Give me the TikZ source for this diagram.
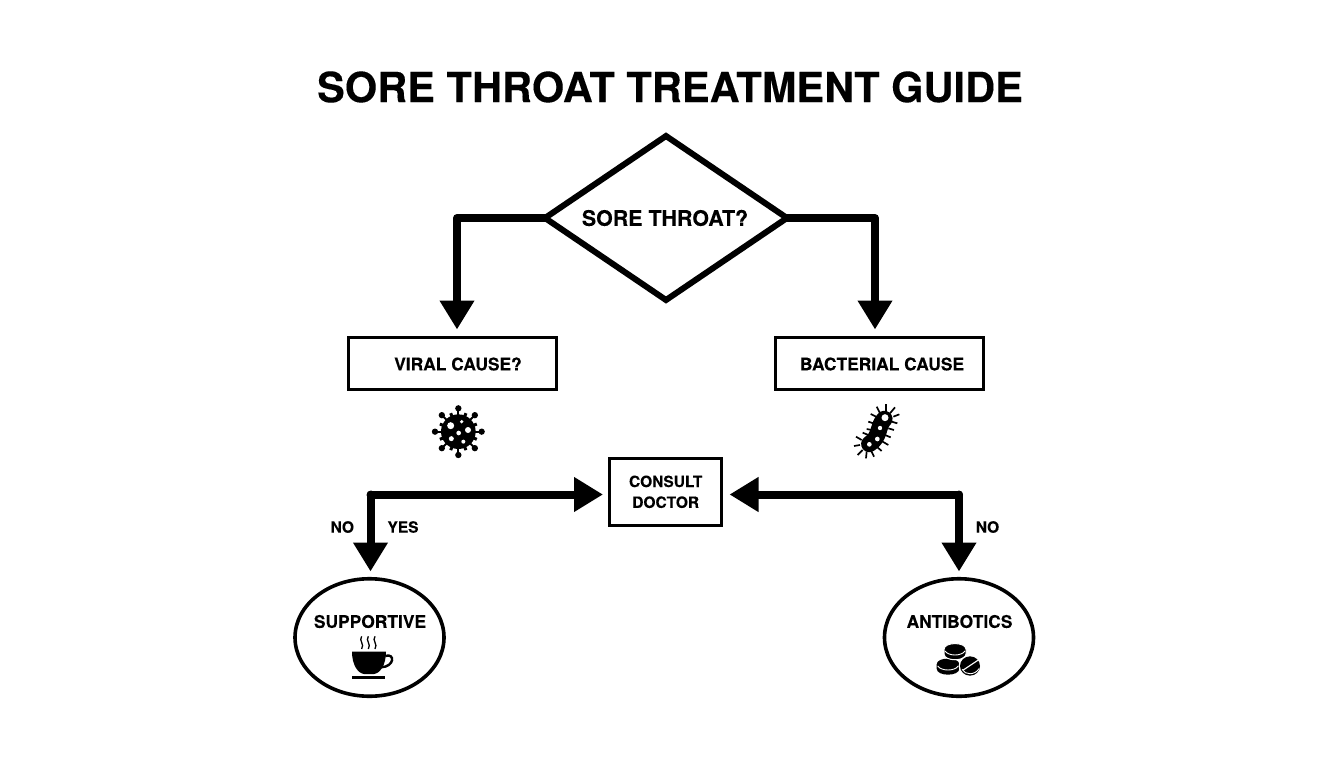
\documentclass[tikz,border=0pt]{standalone}
\usepackage{fontspec}
\setmainfont[BoldFeatures={FakeBold=0.12}]{TeX Gyre Heros}
\usetikzlibrary{shapes.geometric,arrows.meta}
\tikzset{
  x=1pt,y=-1pt,
  flow/.style={line width=8pt,-{Triangle[length=29pt,width=33pt]},line join=round},
  lowflow/.style={flow,line cap=round},
  boxnode/.style={draw=black,line width=3pt,rectangle,inner sep=0pt,outer sep=0pt,align=center},
  oval/.style={draw=black,line width=3.6pt,ellipse,inner sep=0pt,outer sep=0pt,minimum width=149pt,minimum height=117.5pt},
  txt/.style={inner sep=0pt,font=\fontsize{17.4}{21}\selectfont\bfseries},
  lbl/.style={inner sep=0pt,font=\fontsize{15.5}{19}\selectfont\bfseries},
  spike/.style={line width=1.7pt},
  icon/.style={shift={#1},scale=1/3},
}
\begin{document}
\begin{tikzpicture}
\useasboundingbox (0,0) rectangle (1344,768);
\fill[white] (0,0) rectangle (1344,768);
\node[inner sep=0pt,font=\fontsize{41.6}{46}\selectfont\bfseries\addfontfeature{FakeBold=0.3}] (title) at (670,87) {SORE THROAT TREATMENT GUIDE};
\node[draw=black,line width=6pt,diamond,inner sep=0pt,outer sep=0pt,minimum width=242pt,minimum height=164pt] (q) at (666,218) {};
\node[inner sep=0pt,font=\fontsize{21.4}{25}\selectfont\bfseries] (qt) at (665,218) {SORE THROAT?};
\node[boxnode,minimum width=208pt,minimum height=52pt] (viral) at (452.5,363.5) {};
\node[txt] (vt) at (458,364) {VIRAL CAUSE?};
\node[boxnode,minimum width=208pt,minimum height=52pt] (bact) at (879,363.5) {};
\node[txt] (bt) at (882,364) {BACTERIAL CAUSE};
\node[boxnode,minimum width=112.3pt,minimum height=67.5pt,font=\fontsize{15.5}{20.8}\selectfont\bfseries] (doc) at (665.7,491.8) {CONSULT\\DOCTOR};
\node[oval] (sup) at (369.5,637.5) {};
\node[oval] (ant) at (959,637.5) {};
\node[txt] (supt) at (370,621.5) {SUPPORTIVE};
\node[txt] (antt) at (959.5,621.5) {ANTIBOTICS};
% connectors
\coordinate (vb) at (457,329.5);
\coordinate (bb) at (875,329.5);
\draw[flow] (q.west) -- (457,218) -- (vb);
\draw[flow] (q.east) -- (875,218) -- (bb);
\coordinate (sa) at (370.5,571.5);
\coordinate (aa) at (959,571.5);
\coordinate (dl) at (370.5,494.5);
\coordinate (dr) at (959,494.5);
\coordinate (dla) at (603,494.5);
\coordinate (dra) at (729.5,494.5);
\draw[lowflow] (dl) -- (sa);
\draw[lowflow] (dl) -- (dla);
\draw[lowflow] (dr) -- (aa);
\draw[lowflow] (dr) -- (dra);
\node[lbl] (no1) at (342.3,527) {NO};
\node[lbl] (yes) at (403,527) {YES};
\node[lbl] (no2) at (987.5,527) {NO};
% virus
\begin{scope}[icon={(400,390)}]
  \foreach \a in {0,45,...,315}{
    \draw[line width=2pt] (175,125) -- ++(\a:70);
    \fill (175,125) ++(\a:70) circle (9.5);
  }
  \foreach \a in {22.5,67.5,...,337.5}{
    \draw[line width=3pt] (175,125) -- ++(\a:60);
  }
  \fill (175,125) circle (52);
  \fill[white] (152,107) circle (10.5) (204,120) circle (9) (185,95) circle (5.5) (176,129) circle (7) (154,146) circle (7.5) (190,155) circle (6);
\end{scope}
% bacterium
\begin{scope}[icon={(820,390)}]
  \foreach \x/\y/\u/\v in {197/65/197/42,210/70/225/52,220/80/238/73,180/70/170/50,168/80/152/72,160/100/145/95,155/120/140/117,145/135/128/128,125/150/108/140,120/165/102/168,128/180/113/195,140/185/138/205,155/185/162/200,170/170/185/183,188/155/205/165,195/135/212/142,205/115/222/120,215/95/232/100}{
    \draw[spike] (\x,\y) -- (\u,\v);
  }
  \draw[line width=16.5pt,line cap=round,line join=round] (193,87) .. controls (172,108) and (182,140) .. (148,162);
  \fill[white] (195,83) circle (10.5) (180,114) circle (6.5) (172,147) circle (7) (148,163) circle (7);
\end{scope}
% cup
\begin{scope}[icon={(280,570)}]
  \fill (216,245) -- (318,245) .. controls (318,285) and (300,310) .. (282,312) -- (252,312) .. controls (234,310) and (216,285) .. (216,245) -- cycle;
  \draw[line width=2.4pt] (316,258) .. controls (345,248) and (345,290) .. (303,292);
  \draw[line width=3pt] (216,321) -- (316,321);
  \foreach \s in {245,265,285}{
    \draw[line width=1.3pt] (\s,199) .. controls (\s-10,212) and (\s+10,222) .. (\s,237);
  }
\end{scope}
% pills
\begin{scope}[icon={(870,570)}]
  \fill (200,283) .. controls (200,260) and (268,260) .. (268,283) -- (268,296) .. controls (268,320) and (200,320) .. (200,296) -- cycle;
  \draw[white,line width=0.9pt] (203,288) .. controls (214,304) and (254,304) .. (265,288);
  \filldraw[draw=white,line width=1pt] (222,238) .. controls (222,215) and (288,215) .. (288,238) -- (288,252) .. controls (288,275) and (222,275) .. (222,252) -- cycle;
  \draw[white,line width=0.9pt] (225,243) .. controls (236,259) and (274,259) .. (285,243);
  \fill[white] (300,288) circle (34);
  \fill (300,288) ellipse [x radius=30,y radius=29];
  \draw[white,line width=1.1pt] (280,300) -- (325,270);
  \draw[white,line width=0.9pt] (276,298) .. controls (285,316) and (315,316) .. (327,296);
\end{scope}
\end{tikzpicture}
\end{document}
